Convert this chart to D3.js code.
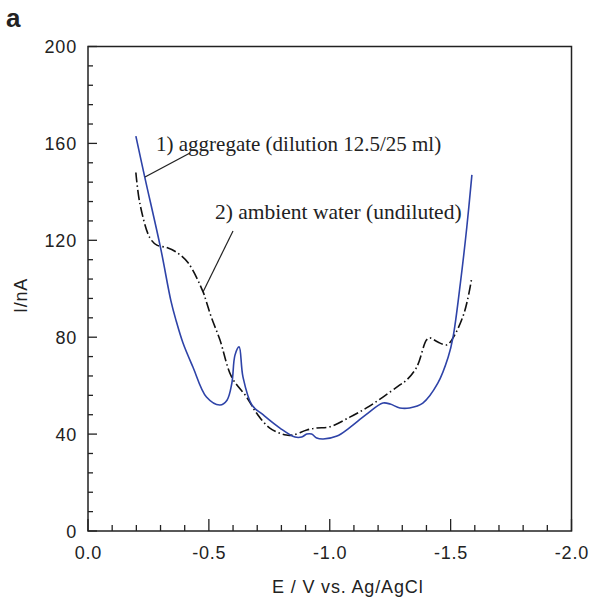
<!DOCTYPE html>
<html><head><meta charset="utf-8">
<script src="https://cdn.jsdelivr.net/npm/d3@7"></script>
<style>body{margin:0;background:#fff}</style>
</head><body>
<svg id="c" width="591" height="598"></svg>
<script>
// Data (E in V vs Ag/AgCl, I in nA)
const aggregateE = [-0.198,-0.235,-0.30,-0.343,-0.364,-0.393,-0.434,-0.49,-0.546,-0.575,-0.595,-0.608,-0.625,-0.641,-0.678,-0.724,-0.794,-0.856,-0.884,-0.905,-0.925,-0.946,-0.973,-1.03,-1.08,-1.15,-1.22,-1.25,-1.29,-1.33,-1.385,-1.447,-1.49,-1.51,-1.54,-1.567,-1.588];
const aggregateI = [163,146,117,95,87,77.6,67.7,55.3,52,54,61,72.6,76,63.6,52,48,42.5,38.8,38.8,40,40,38.4,38,39.2,42.5,48,52.8,52.4,50.8,50.8,52.8,61,71.8,80,102,125.5,147];
const ambientE = [-0.198,-0.215,-0.256,-0.285,-0.326,-0.367,-0.415,-0.476,-0.49,-0.51,-0.546,-0.594,-0.656,-0.697,-0.752,-0.82,-0.847,-0.905,-0.946,-1.0,-1.083,-1.152,-1.22,-1.29,-1.318,-1.36,-1.40,-1.414,-1.447,-1.484,-1.51,-1.55,-1.57,-1.588];
const ambientI = [148,135,121,118,117,115,110.6,98.7,94.5,88.3,78.8,63.6,55.3,48.7,42.5,39.6,39.6,41.7,42.5,43,47,50.8,55.3,60.3,62.3,67.7,78.8,79.7,78,76.8,79.7,88.3,95.4,104.8];
const xTicks = [0.0,-0.5,-1.0,-1.5,-2.0];
const yTicks = [0,40,80,120,160,200];
const labels = ["1) aggregate (dilution 12.5/25 ml)","2) ambient water (undiluted)"];

const svg = d3.select("#c");
const L=88, R=571.5, T=46.5, B=531;
const x = d3.scaleLinear().domain([0,-2]).range([L,R]);
const y = d3.scaleLinear().domain([0,200]).range([B,T]);
const ink="#222";
const sans="'Liberation Sans', Arial, Helvetica, sans-serif";
const serif="'Liberation Serif', 'Times New Roman', serif";

// frame
svg.append("rect").attr("x",L).attr("y",T).attr("width",R-L).attr("height",B-T)
  .attr("fill","none").attr("stroke",ink).attr("stroke-width",1.5);

// x axis ticks (inward)
const xMinor = d3.range(0,21).map(i=>-i*0.1);
svg.append("g").selectAll("line").data(xMinor).join("line")
  .attr("x1",d=>x(d)).attr("x2",d=>x(d)).attr("y1",B)
  .attr("y2",(d,i)=> i%5===0 ? B-12 : B-6)
  .attr("stroke",ink).attr("stroke-width",1.3);
svg.append("g").selectAll("text").data(xTicks).join("text")
  .attr("x",d=>x(d)+0.4).attr("y",559).attr("text-anchor","middle")
  .attr("font-family",sans).attr("font-size",18).attr("letter-spacing",0.8).attr("fill",ink)
  .text(d=>d.toFixed(1).replace("\u2212","-"));

// y axis ticks
const yMinor = d3.range(0,26).map(i=>i*8);
svg.append("g").selectAll("line").data(yMinor).join("line")
  .attr("y1",d=>y(d)).attr("y2",d=>y(d)).attr("x1",L)
  .attr("x2",(d,i)=> i%5===0 ? L+9 : L+5)
  .attr("stroke",ink).attr("stroke-width",1.3);
svg.append("g").selectAll("text").data(yTicks).join("text")
  .attr("x",77).attr("y",d=>y(d)+6.6).attr("text-anchor","end")
  .attr("font-family",sans).attr("font-size",18).attr("letter-spacing",0.8).attr("fill",ink)
  .text(d=>d);

// axis titles
svg.append("text").attr("x",(L+R)/2+18).attr("y",593).attr("text-anchor","middle")
  .attr("font-family",sans).attr("font-size",18).attr("letter-spacing",0.85).attr("fill",ink)
  .text("E / V vs. Ag/AgCl");
svg.append("text").attr("transform",`translate(27,295.5) rotate(-90)`).attr("text-anchor","middle")
  .attr("font-family",sans).attr("font-size",18).attr("letter-spacing",0.8).attr("fill",ink)
  .text("I/nA");
svg.append("text").attr("x",6).attr("y",27.3)
  .attr("font-family",sans).attr("font-size",26).attr("font-weight",700).attr("fill",ink)
  .text("a");

// curves
const line = d3.line().x(d=>x(d[0])).y(d=>y(d[1])).curve(d3.curveCatmullRom.alpha(0.5));
svg.append("path").datum(ambientE.map((e,i)=>[e,ambientI[i]]))
  .attr("d",line).attr("fill","none").attr("stroke","#111").attr("stroke-width",1.6)
  .attr("stroke-dasharray","10,3,1.5,3");
svg.append("path").datum(aggregateE.map((e,i)=>[e,aggregateI[i]]))
  .attr("d",line).attr("fill","none").attr("stroke","#2e43a8").attr("stroke-width",1.6);

// annotations
svg.append("text").attr("x",156).attr("y",151)
  .attr("font-family",serif).attr("font-size",21).attr("fill",ink)
  .text(labels[0]);
svg.append("text").attr("x",215).attr("y",219)
  .attr("font-family",serif).attr("font-size",21.5).attr("fill",ink)
  .text(labels[1]);
svg.append("line").attr("x1",190).attr("y1",153).attr("x2",145).attr("y2",177).attr("stroke",ink).attr("stroke-width",1.2);
svg.append("line").attr("x1",233).attr("y1",231).attr("x2",203).attr("y2",292).attr("stroke",ink).attr("stroke-width",1.2);
</script>
</body></html>
